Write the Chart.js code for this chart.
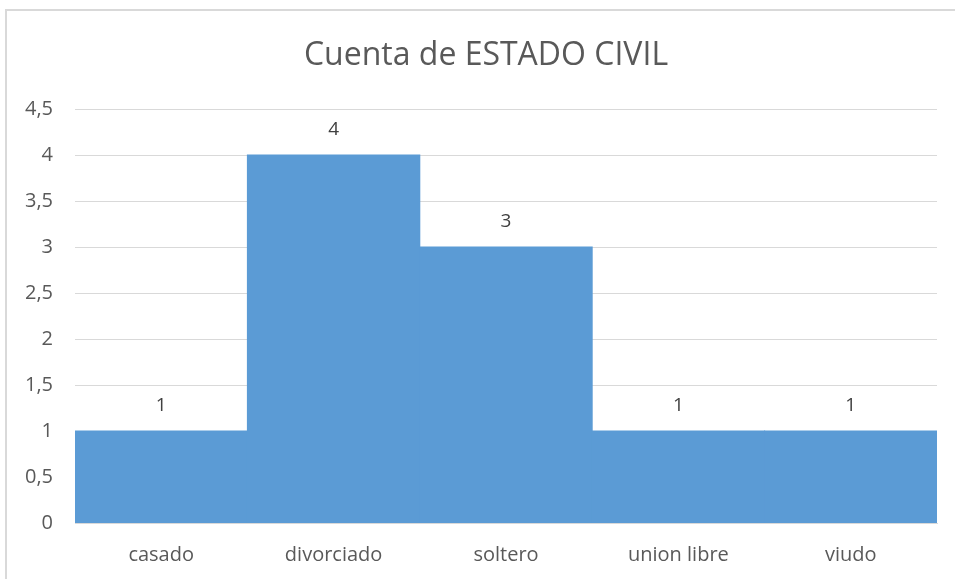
<!DOCTYPE html>
<html><head><meta charset="utf-8">
<script src="https://cdn.jsdelivr.net/npm/chart.js@4"></script>
<style>html,body{margin:0;padding:0;background:#fff;}#wrap{width:955px;height:579px;position:relative;}</style>
</head><body><div id="wrap"><canvas id="c" width="955" height="579"></canvas></div>
<script>
const categories = ["casado", "divorciado", "soltero", "union libre", "viudo"];
const counts = [1, 4, 3, 1, 1];
const titleText = "Cuenta de ESTADO CIVIL";
const yMax = 4.5;
const yStep = 0.5;

const FONT = "'Open Sans', sans-serif";

const frame = {
  id: 'frame',
  beforeDraw(chart) {
    const ctx = chart.ctx;
    ctx.save();
    ctx.fillStyle = '#fff';
    ctx.fillRect(0, 0, chart.width, chart.height);
    ctx.strokeStyle = '#d9d9d9';
    ctx.lineWidth = 2;
    ctx.beginPath();
    ctx.moveTo(6, 579);
    ctx.lineTo(6, 10);
    ctx.lineTo(955, 10);
    ctx.stroke();
    ctx.restore();
  },
  afterDraw(chart) {
    const ctx = chart.ctx;
    ctx.save();
    ctx.font = "32px " + FONT;
    ctx.fillStyle = '#595959';
    ctx.textAlign = 'center';
    ctx.textBaseline = 'alphabetic';
    ctx.fillText(titleText, 486, 65);
    ctx.restore();
  }
};

const labelsPlugin = {
  id: 'vals',
  afterDatasetsDraw(chart) {
    const ctx = chart.ctx;
    const meta = chart.getDatasetMeta(0);
    ctx.save();
    ctx.font = "19px " + FONT;
    ctx.fillStyle = '#404040';
    ctx.textAlign = 'center';
    ctx.textBaseline = 'middle';
    meta.data.forEach((bar, i) => {
      ctx.fillText(String(counts[i]), bar.x, bar.y - 25);
    });
    ctx.restore();
  }
};

new Chart(document.getElementById('c'), {
  type: 'bar',
  data: {
    labels: categories,
    datasets: [{
      data: counts,
      backgroundColor: '#5b9bd5',
      borderWidth: 0,
      inflateAmount: 0.5,
      categoryPercentage: 1.0,
      barPercentage: 1.0
    }]
  },
  options: {
    responsive: false,
    animation: false,
    layout: { padding: { left: 0, right: 18, top: 109, bottom: 0 } },
    plugins: {
      legend: { display: false },
      tooltip: { enabled: false },
      title: { display: false }
    },
    scales: {
      x: {
        grid: { display: false, drawTicks: false },
        border: { display: true, color: '#d9d9d9', width: 1 },
        ticks: { color: '#595959', font: { family: FONT, size: 20 }, padding: 20 },
        afterFit(s) { s.height = 56; }
      },
      y: {
        min: 0, max: yMax,
        grid: { color: '#d9d9d9', drawTicks: false },
        border: { display: false },
        ticks: {
          stepSize: yStep,
          color: '#595959',
          font: { family: FONT, size: 20 },
          padding: 22,
          callback: v => String(v).replace('.', ',')
        },
        afterFit(s) { s.width = 75; }
      }
    }
  },
  plugins: [frame, labelsPlugin]
});
</script></body></html>
